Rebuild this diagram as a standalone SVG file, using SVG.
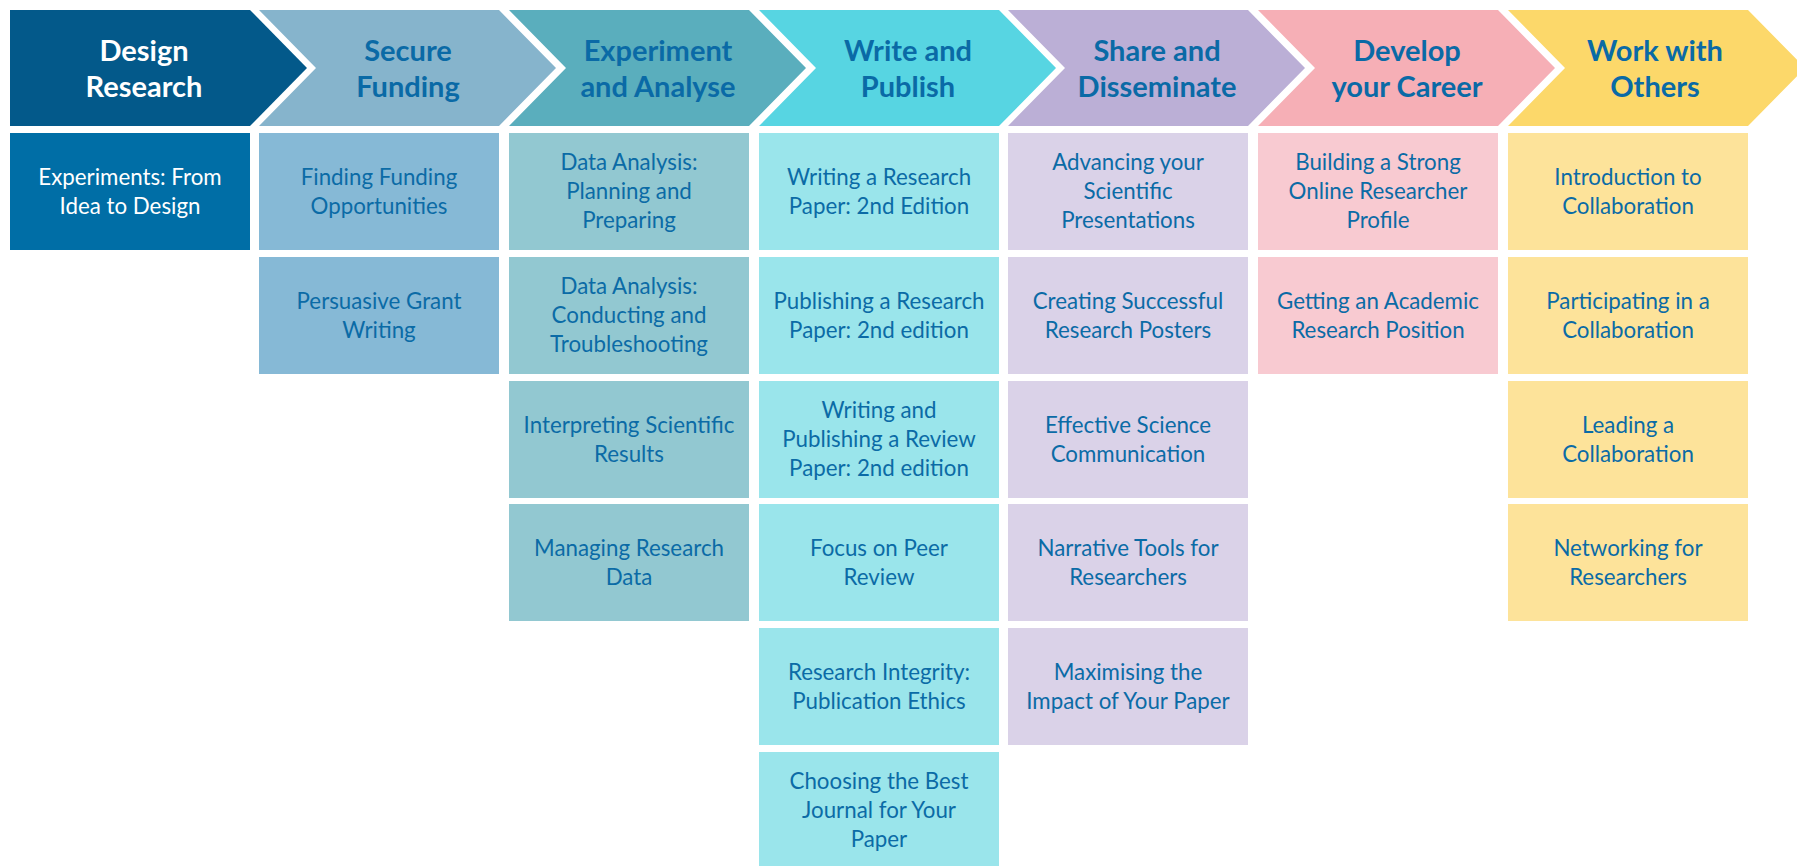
<svg xmlns="http://www.w3.org/2000/svg" width="1797" height="866" viewBox="0 0 1797 866">
<style>
.h{font-family:Lato,"Liberation Sans",sans-serif;font-weight:bold;font-size:29px;fill:#0A6AA6;text-anchor:middle}
.hw{fill:#ffffff}
.t{font-family:Lato,"Liberation Sans",sans-serif;font-size:22.3px;fill:#0B6BA6;text-anchor:middle}
.tw{fill:#ffffff}
.c1{fill:#03598A}.b1{fill:#006EA6}
.c2{fill:#86B4CC}.b2{fill:#86B9D6}
.c3{fill:#5AAEBD}.b3{fill:#92C8D1}
.c4{fill:#57D5E2}.b4{fill:#9AE5EB}
.c5{fill:#BBAFD6}.b5{fill:#DAD2E8}
.c6{fill:#F6AFB6}.b6{fill:#F8CAD1}
.c7{fill:#FCD86A}.b7{fill:#FDE39A}
</style>
<rect width="1797" height="866" fill="#ffffff"/>
<g id="stages">
<g id="stage-design-research"><path class="c1" d="M10 10H250L307 68L250 126H10Z"/><text class="h hw" x="144" y="61">Design</text><text class="h hw" x="144" y="97">Research</text></g>
<g id="stage-secure-funding"><path class="c2" d="M259 10H499L556 68L499 126H259L316 68Z"/><text class="h" x="408" y="61">Secure</text><text class="h" x="408" y="97">Funding</text></g>
<g id="stage-experiment"><path class="c3" d="M509 10H749L806 68L749 126H509L566 68Z"/><text class="h" x="658" y="61">Experiment</text><text class="h" x="658" y="97">and Analyse</text></g>
<g id="stage-write"><path class="c4" d="M759 10H999L1056 68L999 126H759L816 68Z"/><text class="h" x="908" y="61">Write and</text><text class="h" x="908" y="97">Publish</text></g>
<g id="stage-share"><path class="c5" d="M1008 10H1248L1305 68L1248 126H1008L1065 68Z"/><text class="h" x="1157" y="61">Share and</text><text class="h" x="1157" y="97">Disseminate</text></g>
<g id="stage-career"><path class="c6" d="M1258 10H1498L1555 68L1498 126H1258L1315 68Z"/><text class="h" x="1407" y="61">Develop</text><text class="h" x="1407" y="97">your Career</text></g>
<g id="stage-others"><path class="c7" d="M1508 10H1748L1805 68L1748 126H1508L1565 68Z"/><text class="h" x="1655" y="61">Work with</text><text class="h" x="1655" y="97">Others</text></g>
</g>
<g id="courses">
<g id="c1r1"><rect class="b1" x="10" y="133" width="240" height="117"/><text class="t tw" x="130" y="184.5">Experiments: From</text><text class="t tw" x="130" y="213.5">Idea to Design</text></g>

<g id="c2r1"><rect class="b2" x="259" y="133" width="240" height="117"/><text class="t" x="379" y="184.5">Finding Funding</text><text class="t" x="379" y="213.5">Opportunities</text></g>
<g id="c2r2"><rect class="b2" x="259" y="257" width="240" height="117"/><text class="t" x="379" y="308.5">Persuasive Grant</text><text class="t" x="379" y="337.5">Writing</text></g>

<g id="c3r1"><rect class="b3" x="509" y="133" width="240" height="117"/><text class="t" x="629" y="170">Data Analysis:</text><text class="t" x="629" y="199">Planning and</text><text class="t" x="629" y="228">Preparing</text></g>
<g id="c3r2"><rect class="b3" x="509" y="257" width="240" height="117"/><text class="t" x="629" y="294">Data Analysis:</text><text class="t" x="629" y="323">Conducting and</text><text class="t" x="629" y="352">Troubleshooting</text></g>
<g id="c3r3"><rect class="b3" x="509" y="381" width="240" height="117"/><text class="t" x="629" y="432.5">Interpreting Scientific</text><text class="t" x="629" y="461.5">Results</text></g>
<g id="c3r4"><rect class="b3" x="509" y="504" width="240" height="117"/><text class="t" x="629" y="556">Managing Research</text><text class="t" x="629" y="585">Data</text></g>

<g id="c4r1"><rect class="b4" x="759" y="133" width="240" height="117"/><text class="t" x="879" y="184.5">Writing a Research</text><text class="t" x="879" y="213.5">Paper: 2nd Edition</text></g>
<g id="c4r2"><rect class="b4" x="759" y="257" width="240" height="117"/><text class="t" x="879" y="308.5">Publishing a Research</text><text class="t" x="879" y="337.5">Paper: 2nd edition</text></g>
<g id="c4r3"><rect class="b4" x="759" y="381" width="240" height="117"/><text class="t" x="879" y="418">Writing and</text><text class="t" x="879" y="447">Publishing a Review</text><text class="t" x="879" y="476">Paper: 2nd edition</text></g>
<g id="c4r4"><rect class="b4" x="759" y="504" width="240" height="117"/><text class="t" x="879" y="556">Focus on Peer</text><text class="t" x="879" y="585">Review</text></g>
<g id="c4r5"><rect class="b4" x="759" y="628" width="240" height="117"/><text class="t" x="879" y="680">Research Integrity:</text><text class="t" x="879" y="709">Publication Ethics</text></g>
<g id="c4r6"><rect class="b4" x="759" y="752" width="240" height="117"/><text class="t" x="879" y="789">Choosing the Best</text><text class="t" x="879" y="818">Journal for Your</text><text class="t" x="879" y="847">Paper</text></g>

<g id="c5r1"><rect class="b5" x="1008" y="133" width="240" height="117"/><text class="t" x="1128" y="170">Advancing your</text><text class="t" x="1128" y="199">Scientific</text><text class="t" x="1128" y="228">Presentations</text></g>
<g id="c5r2"><rect class="b5" x="1008" y="257" width="240" height="117"/><text class="t" x="1128" y="308.5">Creating Successful</text><text class="t" x="1128" y="337.5">Research Posters</text></g>
<g id="c5r3"><rect class="b5" x="1008" y="381" width="240" height="117"/><text class="t" x="1128" y="432.5">Effective Science</text><text class="t" x="1128" y="461.5">Communication</text></g>
<g id="c5r4"><rect class="b5" x="1008" y="504" width="240" height="117"/><text class="t" x="1128" y="556">Narrative Tools for</text><text class="t" x="1128" y="585">Researchers</text></g>
<g id="c5r5"><rect class="b5" x="1008" y="628" width="240" height="117"/><text class="t" x="1128" y="680">Maximising the</text><text class="t" x="1128" y="709">Impact of Your Paper</text></g>

<g id="c6r1"><rect class="b6" x="1258" y="133" width="240" height="117"/><text class="t" x="1378" y="170">Building a Strong</text><text class="t" x="1378" y="199">Online Researcher</text><text class="t" x="1378" y="228">Profile</text></g>
<g id="c6r2"><rect class="b6" x="1258" y="257" width="240" height="117"/><text class="t" x="1378" y="308.5">Getting an Academic</text><text class="t" x="1378" y="337.5">Research Position</text></g>

<g id="c7r1"><rect class="b7" x="1508" y="133" width="240" height="117"/><text class="t" x="1628" y="184.5">Introduction to</text><text class="t" x="1628" y="213.5">Collaboration</text></g>
<g id="c7r2"><rect class="b7" x="1508" y="257" width="240" height="117"/><text class="t" x="1628" y="308.5">Participating in a</text><text class="t" x="1628" y="337.5">Collaboration</text></g>
<g id="c7r3"><rect class="b7" x="1508" y="381" width="240" height="117"/><text class="t" x="1628" y="432.5">Leading a</text><text class="t" x="1628" y="461.5">Collaboration</text></g>
<g id="c7r4"><rect class="b7" x="1508" y="504" width="240" height="117"/><text class="t" x="1628" y="556">Networking for</text><text class="t" x="1628" y="585">Researchers</text></g>
</g>
<g id="connectors"/>
</svg>
